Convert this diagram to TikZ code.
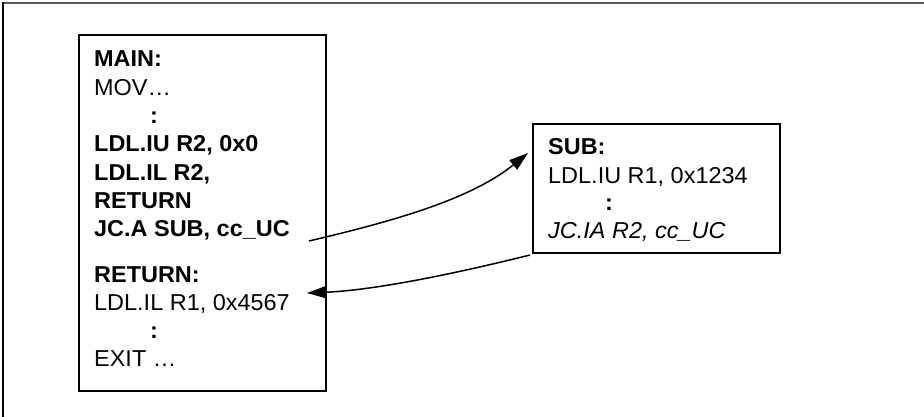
\documentclass[tikz,border=0pt]{standalone}
\usepackage{fontspec}
\setmainfont{Liberation Sans}[FakeStretch=1.02]
\usetikzlibrary{arrows.meta}
\tikzset{
  codebox/.style={draw=black, line width=2.4pt, inner sep=0pt},
  codeline/.style={anchor=base west, inner sep=0pt, font=\fontsize{23pt}{28pt}\selectfont},
  flow/.style={line width=1.5pt, -{Triangle[length=19pt,width=12pt]}},
}
\begin{document}
\begin{tikzpicture}[x=1pt,y=-1pt]
\useasboundingbox (0,0) rectangle (924,417);
% outer frame (top and left only)
\draw[line width=2pt, draw=black!65] (2,3) -- (924,3);
\draw[line width=2pt] (3,2) -- (3,417);
% boxes
\node[codebox, minimum width=247pt, minimum height=356pt, anchor=north west] (main) at (78,34) {};
\node[codebox, minimum width=247pt, minimum height=129pt, anchor=north west] (sub) at (532,123) {};
% main text
\node[codeline] (m1) at (94,67) {\bfseries MAIN:};
\node[codeline] (m2) at (94,95.3) {MOV…};
\node[codeline] (m3) at (150,123.6) {\bfseries :};
\node[codeline] (m4) at (94,151.9) {\bfseries LDL.IU R2, 0x0};
\node[codeline] (m5) at (94,180.2) {\bfseries LDL.IL R2,};
\node[codeline] (m6) at (94,208.5) {\bfseries RETURN};
\node[codeline] (m7) at (94,236.8) {\bfseries JC.A SUB, cc\_UC};
\node[codeline] (m8) at (94,282) {\bfseries RETURN:};
\node[codeline] (m9) at (94,310) {LDL.IL R1, 0x4567};
\node[codeline] (m10) at (150,338) {\bfseries :};
\node[codeline] (m11) at (94,366) {EXIT …};
% sub text
\node[codeline] (s1) at (548,155) {\bfseries SUB:};
\node[codeline] (s2) at (548,183) {LDL.IU R1, 0x1234};
\node[codeline] (s3) at (605,211) {\bfseries :};
\node[codeline] (s4) at (548,238) {\itshape JC.IA R2, cc\_UC};
% connector end points
\coordinate (callfrom) at (309,241);
\coordinate (callto) at (528,153);
\coordinate (retfrom) at (530,255);
\coordinate (retto) at (307,293);
\draw[flow] (callfrom) .. controls (390,222) and (470,200) .. (callto);
\draw[flow] (retfrom) .. controls (470,270) and (380,290) .. (retto);
\end{tikzpicture}
\end{document}
